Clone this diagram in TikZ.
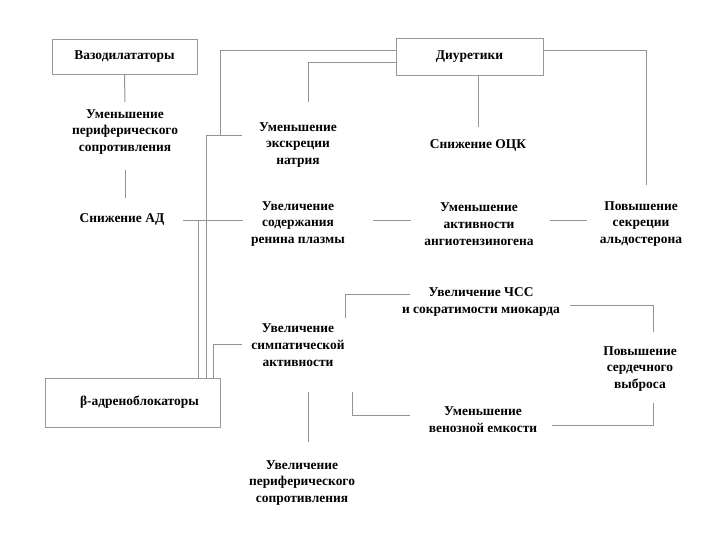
\documentclass[tikz,border=0pt]{standalone}
\usepackage{fontspec}
\setmainfont{Liberation Serif}
\begin{document}
\begin{tikzpicture}[x=1bp,y=-1bp,
  ln/.style={draw=black!42,line width=1bp},
  bx/.style={draw=black!40,line width=0.8bp,minimum width=#1,inner sep=0pt,font=\bfseries\fontsize{13.5}{17}\selectfont},
  tx/.style={align=center,inner sep=0pt,font=\bfseries\fontsize{13.5}{17}\selectfont}]
\useasboundingbox[fill=white] (0,0) rectangle (720,540);
% boxes
\node[bx=145bp,minimum height=35bp] (vaso) at (124.5,57) {Вазодилататоры};
\node[bx=147bp,minimum height=37bp] (diur) at (469.5,56.5) {Диуретики};
\node[bx=175bp,minimum height=49bp] (beta) at (132.5,402.5) {\hspace*{14bp}β-адреноблокаторы};
% texts
\node[tx] (umper) at (125,132) {Уменьшение\\периферического\\сопротивления};
\node[tx] (snad) at (122,219) {Снижение АД};
\node[tx] (umexk) at (298,145) {Уменьшение\\экскреции\\натрия};
\node[tx] (snock) at (478,145) {Снижение ОЦК};
\node[tx] (renin) at (298,224) {Увеличение\\содержания\\ренина плазмы};
\node[tx] (angio) at (479,224) {Уменьшение\\активности\\ангиотензиногена};
\node[tx] (aldo) at (641,224) {Повышение\\секреции\\альдостерона};
\node[tx] (symp) at (298,345) {Увеличение\\симпатической\\активности};
\node[tx] (chss) at (481,302) {Увеличение ЧСС\\и сократимости миокарда};
\node[tx] (cardio) at (640,369) {Повышение\\сердечного\\выброса};
\node[tx] (venoz) at (483,420) {Уменьшение\\венозной емкости};
\node[tx] (perif2) at (302,483) {Увеличение\\периферического\\сопротивления};
% coordinates
\coordinate (a1) at (125,102); \coordinate (a2) at (125,170); \coordinate (a3) at (125,198);
\coordinate (b1) at (183,221); \coordinate (b2) at (243,221);
\coordinate (c1) at (396,51); \coordinate (c2) at (220,136);
\coordinate (d1) at (242,136); \coordinate (d2) at (206,136); \coordinate (d3) at (206,378);
\coordinate (e1) at (396,63); \coordinate (e2) at (308,102);
\coordinate (f1) at (478,127);
\coordinate (g1) at (543,51); \coordinate (g2) at (646,185);
\coordinate (h1) at (373,221); \coordinate (h2) at (411,221);
\coordinate (i1) at (550,221); \coordinate (i2) at (587,221);
\coordinate (j1) at (198,221); \coordinate (j2) at (198,378);
\coordinate (k1) at (242,344); \coordinate (k2) at (213,378);
\coordinate (l1) at (345,318); \coordinate (l2) at (410,294);
\coordinate (m1) at (570,305); \coordinate (m2) at (653,332);
\coordinate (n1) at (308,392); \coordinate (n2) at (308,442);
\coordinate (o1) at (352,392); \coordinate (o2) at (410,415);
\coordinate (p1) at (552,425); \coordinate (p2) at (653,403);
% connectors
\draw[ln] (vaso.south) -- (a1);
\draw[ln] (a2) -- (a3);
\draw[ln] (b1) -- (b2);
\draw[ln] (c1) -| (c2);
\draw[ln] (d1) -- (d2) -- (d3);
\draw[ln] (e1) -| (e2);
\draw[ln] (diur.south -| f1) -- (f1);
\draw[ln] (g1) -| (g2);
\draw[ln] (h1) -- (h2);
\draw[ln] (i1) -- (i2);
\draw[ln] (j1) -- (j2);
\draw[ln] (k1) -| (k2);
\draw[ln] (l1) |- (l2);
\draw[ln] (m1) -| (m2);
\draw[ln] (n1) -- (n2);
\draw[ln] (o1) |- (o2);
\draw[ln] (p1) -| (p2);
\end{tikzpicture}
\end{document}
